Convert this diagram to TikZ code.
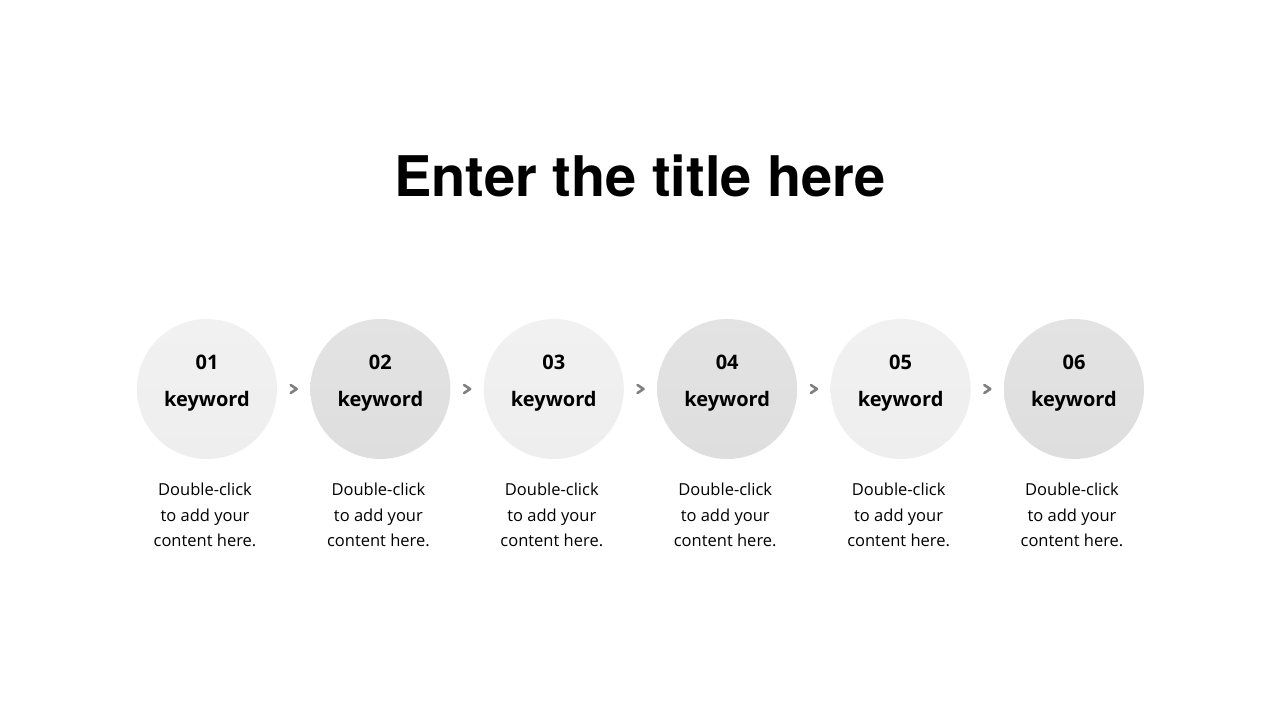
\documentclass[tikz,border=0pt]{standalone}
\usepackage{fontspec}
\setmainfont{Open Sans}
\newfontfamily\titlefont{TeX Gyre Heros}
\usetikzlibrary{positioning,calc}

\definecolor{ringA}{HTML}{F1F1F1}
\definecolor{ringAd}{HTML}{EEEEEE}
\definecolor{ringB}{HTML}{E3E3E3}
\definecolor{ringBd}{HTML}{DEDEDE}
\definecolor{chevgray}{HTML}{808080}

\tikzset{
  step light/.style={circle, minimum size=140pt, inner sep=0pt,
    top color=ringA, bottom color=ringAd},
  step dark/.style={circle, minimum size=140pt, inner sep=0pt,
    top color=ringB, bottom color=ringBd},
  num/.style={font=\bfseries\fontsize{20}{24}\selectfont, inner sep=0pt},
  kw/.style={font=\bfseries\fontsize{20}{24}\selectfont, inner sep=0pt},
  desc/.style={font=\fontsize{16.5}{25.5}\selectfont, align=center, inner sep=0pt},
  chev/.style={minimum width=10pt, minimum height=12pt, inner sep=0pt,
    path picture={\draw[chevgray, line width=2.6pt, line cap=round, line join=round]
      ([xshift=2pt,yshift=-2pt]path picture bounding box.north west)
      -- ([xshift=-2pt]path picture bounding box.east)
      -- ([xshift=2pt,yshift=2pt]path picture bounding box.south west);}},
}

\begin{document}
\begin{tikzpicture}[x=1pt, y=-1pt]
  \useasboundingbox[fill=white] (0,0) rectangle (1280,720);

  % title
  \node[font=\titlefont\bfseries\fontsize{56}{64}\selectfont, inner sep=0pt] (title) at (640,176) {Enter the title here};

  % steps
  \node[step light] (c1) at (207,389) {};
  \node[step dark, right=33pt of c1] (c2) {};
  \node[step light, right=33pt of c2] (c3) {};
  \node[step dark, right=33pt of c3] (c4) {};
  \node[step light, right=33pt of c4] (c5) {};
  \node[step dark, right=33pt of c5] (c6) {};

  \foreach \i/\n in {1/01,2/02,3/03,4/04,5/05,6/06}{
    \node[num] (n\i) at ([yshift=27pt]c\i.center) {\n};
    \node[kw] (k\i) at ([yshift=-12pt]c\i.center) {keyword};
    \node[desc] (d\i) at ([xshift=-2pt,yshift=-126pt]c\i.center)
      {Double-click\\to add your\\content here.};
  }

  % chevrons
  \foreach \i/\j in {1/2,2/3,3/4,4/5,5/6}{
    \path (c\i) -- node[chev] (a\i) {} (c\j);
  }
\end{tikzpicture}
\end{document}
